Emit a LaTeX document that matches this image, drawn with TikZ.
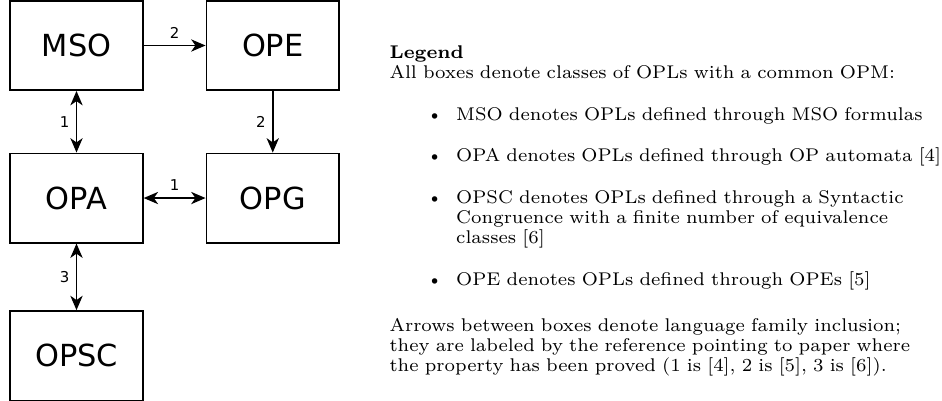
\documentclass[tikz,border=0pt]{standalone}
\usepackage{fontspec}
\newfontfamily\boxfont{DejaVu Sans}
\usepackage{tikz}
\usetikzlibrary{arrows.meta, positioning}

\begin{document}
\begin{tikzpicture}[x=0.375pt, y=-0.375pt,
  cls/.style={draw, line width=0.6pt, minimum width=49.8pt, minimum height=33.5pt,
    inner sep=0pt, font=\boxfont\fontsize{11.4}{13}\selectfont},
  incl/.style={line width=0.6pt, -{Stealth[length=5.4pt, width=4.6pt, inset=1.6pt]}},
  both/.style={incl, {Stealth[length=5.4pt, width=4.6pt, inset=1.6pt]}-{Stealth[length=5.4pt, width=4.6pt, inset=1.6pt]}},
  ref/.style={font=\boxfont\fontsize{5.6}{6}\selectfont, inner sep=2.4pt},
  legend/.style={inner sep=0pt, text width=218pt, align=left,
    font=\fontsize{6.9}{7.6}\selectfont}]
\useasboundingbox (0,0) rectangle (942,400);

% language classes
\node[cls] (mso) at (76.5,45.5) {MSO};
\node[cls, right=23.2pt of mso] (ope) {OPE};
\node[cls, below=23.1pt of mso] (opa) {OPA};
\node[cls, right=23.2pt of opa] (opg) {OPG};
\node[cls, below=25pt of opa] (opsc) {OPSC};

% inclusions, labelled by reference
\draw[incl] (mso) -- node[ref, above] {2} (ope);
\draw[both] (mso) -- node[ref, left] {1} (opa);
\draw[incl] (ope) -- node[ref, left] {2} (opg);
\draw[both] (opa) -- node[ref, above] {1} (opg);
\draw[both] (opa) -- node[ref, left] {3} (opsc);

\node[legend, anchor=north west] (key) at (389,45) {%
  \textbf{Legend}\\
  All boxes denote classes of OPLs with a common OPM:
  \begin{itemize}
    \item MSO denotes OPLs defined through MSO formulas
    \item OPA denotes OPLs defined through OP automata [4]
    \item OPSC denotes OPLs defined through a Syntactic\\
      Congruence with a finite number of equivalence\\
      classes [6]
    \item OPE denotes OPLs defined through OPEs [5]
  \end{itemize}\vspace{1.5pt}
  Arrows between boxes denote language family inclusion;\\
  they are labeled by the reference pointing to paper where\\
  the property has been proved (1 is [4], 2 is [5], 3 is [6]).};
\end{tikzpicture}
\end{document}
